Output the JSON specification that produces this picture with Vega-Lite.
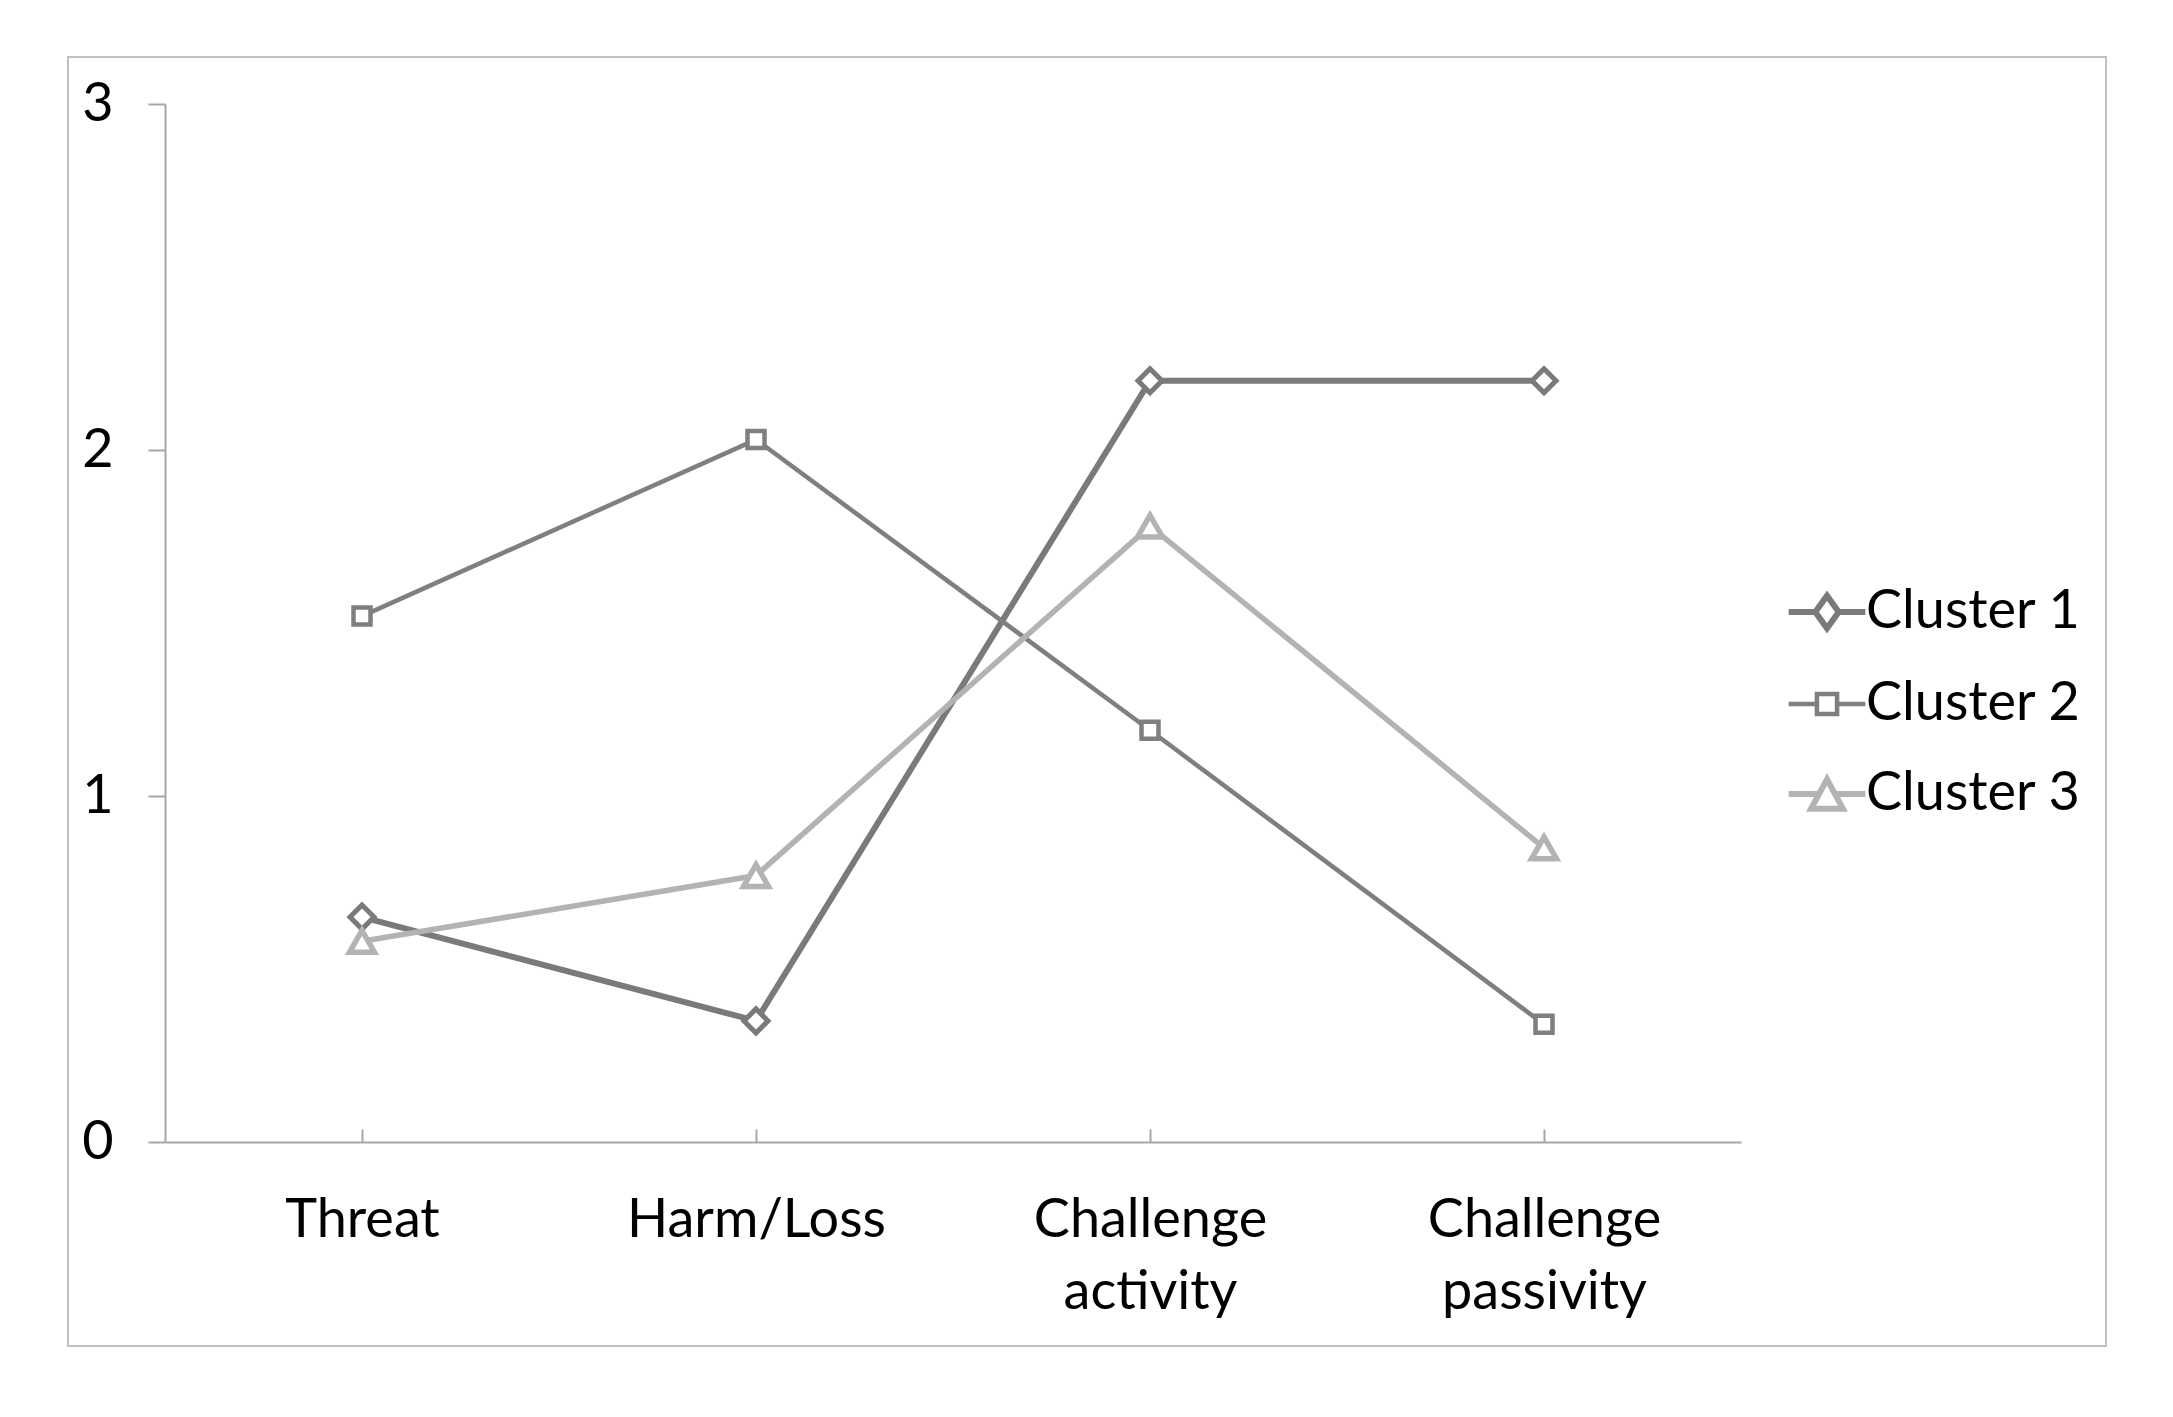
{
  "$schema": "https://vega.github.io/schema/vega-lite/v6.json",
  "width": 1576,
  "height": 1038,
  "autosize": {"type": "none"},
  "padding": {"left": 165, "top": 104, "right": 432, "bottom": 275},
  "background": "white",
  "config": {"view": {"stroke": null}, "font": "Lato"},
  "datasets": {
    "clusters": [
      {"cluster": "Cluster 1", "category": "Threat", "value": 0.65},
      {"cluster": "Cluster 1", "category": "Harm/Loss", "value": 0.35},
      {"cluster": "Cluster 1", "category": "Challenge activity", "value": 2.2},
      {"cluster": "Cluster 1", "category": "Challenge passivity", "value": 2.2},
      {"cluster": "Cluster 2", "category": "Threat", "value": 1.52},
      {"cluster": "Cluster 2", "category": "Harm/Loss", "value": 2.03},
      {"cluster": "Cluster 2", "category": "Challenge activity", "value": 1.19},
      {"cluster": "Cluster 2", "category": "Challenge passivity", "value": 0.34},
      {"cluster": "Cluster 3", "category": "Threat", "value": 0.58},
      {"cluster": "Cluster 3", "category": "Harm/Loss", "value": 0.77},
      {"cluster": "Cluster 3", "category": "Challenge activity", "value": 1.78},
      {"cluster": "Cluster 3", "category": "Challenge passivity", "value": 0.85}
    ],
    "frame": [{"lo": 0, "hi": 1}]
  },
  "layer": [
    {
      "data": {"name": "frame"},
      "mark": {"type": "rect", "fill": "transparent", "stroke": "#bfbfbf", "strokeWidth": 2},
      "encoding": {
        "x": {"field": "lo", "type": "quantitative", "scale": {"domain": [0, 1], "range": [-97, 1941], "nice": false, "zero": false}, "axis": null},
        "x2": {"field": "hi"},
        "y": {"field": "lo", "type": "quantitative", "scale": {"domain": [0, 1], "range": [1242, -47], "nice": false, "zero": false}, "axis": null},
        "y2": {"field": "hi"}
      }
    },
    {
      "data": {"name": "clusters"},
      "encoding": {
        "x": {
          "field": "category", "type": "nominal",
          "sort": ["Threat", "Harm/Loss", "Challenge activity", "Challenge passivity"],
          "scale": {"type": "point", "padding": 0.5},
          "axis": {
            "title": null, "grid": false, "labelAngle": 0, "labelLimit": 0,
            "domainColor": "#a6a6a6", "domainWidth": 2,
            "tickColor": "#a6a6a6", "tickWidth": 2, "tickSize": -13,
            "labelFontSize": 54, "labelColor": "black", "labelFont": "Lato",
            "labelPadding": 107, "labelBaseline": "alphabetic", "labelLineHeight": 72,
            "labelExpr": "split(datum.label, ' ')"
          }
        },
        "y": {
          "field": "value", "type": "quantitative",
          "scale": {"domain": [0, 3], "nice": false},
          "axis": {
            "title": null, "values": [0, 1, 2, 3], "format": "d",
            "domainColor": "#a6a6a6", "domainWidth": 2,
            "tickColor": "#a6a6a6", "tickWidth": 2, "tickSize": 17,
            "gridColor": "#a6a6a6", "gridWidth": 2,
            "labelFontSize": 54, "labelColor": "black", "labelFont": "Lato", "labelPadding": 35
          }
        },
        "stroke": {
          "field": "cluster", "type": "nominal",
          "scale": {"domain": ["Cluster 1", "Cluster 2", "Cluster 3"], "range": ["#7a7a7a", "#7f7f7f", "#b3b3b3"]},
          "legend": {
            "title": null, "orient": "none", "legendX": 1635, "legendY": 481, "padding": 0,
            "symbolSize": 4225, "labelFontSize": 54, "labelColor": "black", "labelFont": "Lato",
            "labelLimit": 0, "labelOffset": 12, "rowPadding": 36,
            "encode": {
              "symbols": {
                "update": {
                  "size": {"value": 4225},
                  "shape": {"signal": "datum.value === 'Cluster 1' ? 'M-1.18,0L-0.36,0M0.36,0L1.18,0M-0.36,0L0,-0.5L0.36,0L0,0.5Z' : datum.value === 'Cluster 2' ? 'M-1.18,0L-0.31,0M0.31,0L1.18,0M-0.31,-0.31L0.31,-0.31L0.31,0.31L-0.31,0.31Z' : 'M-1.18,0L-0.25,0M0.25,0L1.18,0M0,-0.45L0.49,0.45L-0.49,0.45Z'"},
                  "strokeWidth": {"signal": "datum.value === 'Cluster 2' ? 4.5 : 6"},
                  "fill": {"value": "white"},
                  "opacity": {"value": 1},
                  "fillOpacity": {"value": 1},
                  "strokeOpacity": {"value": 1}
                }
              }
            }
          }
        }
      },
      "layer": [
        {"transform": [{"filter": "datum.cluster === 'Cluster 1'"}], "mark": {"type": "line", "strokeWidth": 6}},
        {"transform": [{"filter": "datum.cluster === 'Cluster 2'"}], "mark": {"type": "line", "strokeWidth": 4.5}},
        {"transform": [{"filter": "datum.cluster === 'Cluster 3'"}], "mark": {"type": "line", "strokeWidth": 5.5}},
        {"transform": [{"filter": "datum.cluster === 'Cluster 1'"}], "mark": {"type": "point", "shape": "diamond", "size": 576, "filled": true, "fill": "white", "strokeWidth": 5, "opacity": 1}},
        {"transform": [{"filter": "datum.cluster === 'Cluster 2'"}], "mark": {"type": "point", "shape": "square", "size": 289, "filled": true, "fill": "white", "strokeWidth": 4.5, "opacity": 1}},
        {"transform": [{"filter": "datum.cluster === 'Cluster 3'"}], "mark": {"type": "point", "shape": "triangle-up", "size": 625, "filled": true, "fill": "white", "strokeWidth": 5.5, "opacity": 1}}
      ]
    }
  ],
  "resolve": {"scale": {"x": "independent", "y": "independent"}}
}
